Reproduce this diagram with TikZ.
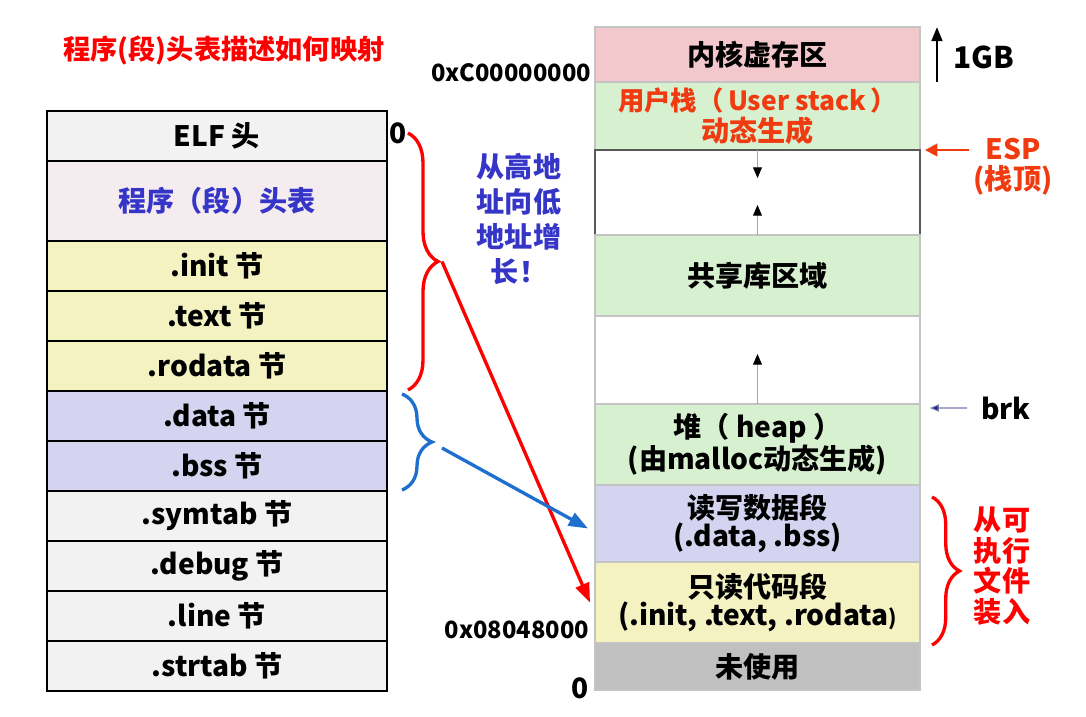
\documentclass[tikz,border=0pt]{standalone}
\usepackage{fontspec}
\setmainfont{Noto Sans CJK SC}
\usetikzlibrary{arrows.meta, positioning, decorations.pathreplacing, calc}
\definecolor{cellGray}{HTML}{F2F2F2}
\definecolor{cellPink}{HTML}{F5ECEF}
\definecolor{cellYellow}{HTML}{F5F2C2}
\definecolor{cellLav}{HTML}{D4D4F0}
\definecolor{kernPink}{HTML}{F2C8CC}
\definecolor{segGreen}{HTML}{D6F0D0}
\definecolor{unusedGray}{HTML}{C0C0C0}
\definecolor{segLine}{HTML}{C4C4C4}
\definecolor{txtBlue}{HTML}{3535C8}
\definecolor{txtOrange}{HTML}{F03A10}
\definecolor{arrBlue}{HTML}{1F6FCF}
\definecolor{brkBlue}{HTML}{202080}

\begin{document}
\begin{tikzpicture}[x=0.02cm, y=-0.02cm, font=\fontsize{16}{19}\selectfont\bfseries,
    lcell/.style={draw=black, line width=1.1pt, minimum width=6.8cm, inner sep=0pt, outer sep=0pt},
    rcell/.style={draw=segLine, line width=0.8pt, minimum width=6.5cm, inner sep=0pt, outer sep=0pt, align=center},
    addr/.style={font=\fontsize{13.5}{16}\selectfont\bfseries, inner sep=1pt},
    bigarrow/.style={line width=1.9pt, -{Triangle[length=11pt, width=8pt]}},
    growarrow/.style={draw=black!35, line width=0.5pt, -{Triangle[length=6pt, width=5pt, black]}}]
  \useasboundingbox (0,0) rectangle (1086,717);

  % title
  \node[red, font=\fontsize{15.5}{18}\selectfont\bfseries] (title) at (224,50) {程序(段)头表描述如何映射};

  % ELF file layout
  \foreach \nm/\yc/\rowh/\clr/\txt in {elf/136/1/cellGray/ELF 头, phdr/201/1.6/cellPink/{\color{txtBlue}程序（段）头表},
      init/266/1/cellYellow/.init 节, text/316/1/cellYellow/.text 节, rodata/366/1/cellYellow/.rodata 节,
      data/416/1/cellLav/.data 节, bss/466/1/cellLav/.bss 节, symtab/516/1/cellGray/.symtab 节,
      debug/566/1/cellGray/.debug 节, line/616/1/cellGray/.line 节, strtab/666/1/cellGray/.strtab 节} {
    \node[lcell, fill=\clr, minimum height=\rowh cm] (\nm) at (217,\yc) {\txt};
  }
  \node[addr, font=\fontsize{16}{18}\selectfont\bfseries, anchor=west] (zerofile) at (elf.north east) [yshift=-0.45cm] {0};

  % process virtual memory
  \node[rcell, fill=kernPink, minimum height=1.1cm] (kernel) at (757.5,54.5) {内核虚存区};
  \node[rcell, fill=segGreen, minimum height=1.36cm, font=\fontsize{15}{17.5}\selectfont\bfseries, text=txtOrange] (ustack) at (757.5,116) {用户栈（\,User stack\,）\\{\fontsize{16}{17.5}\selectfont 动态生成}};
  \node[rcell, draw=black!65, fill=white, minimum height=1.7cm] (gapa) at (757.5,192.5) {};
  \node[rcell, fill=segGreen, minimum height=1.62cm] (shlib) at (757.5,275.5) {共享库区域};
  \node[rcell, fill=white, minimum height=1.76cm] (gapb) at (757.5,360) {};
  \node[rcell, fill=segGreen, minimum height=1.62cm, font=\fontsize{16}{15.5}\selectfont\bfseries] (heap) at (757.5,444.5) {堆（ heap ）\\(由malloc动态生成)};
  \node[rcell, fill=cellLav, minimum height=1.54cm, font=\fontsize{16}{15.5}\selectfont\bfseries] (rwseg) at (757.5,523.5) {读写数据段\\(.data, .bss)};
  \node[rcell, fill=cellYellow, minimum height=1.62cm, font=\fontsize{16}{15.5}\selectfont\bfseries] (roseg) at (757.5,602.5) {只读代码段\\(.init, .text, .rodata{\fontsize{12}{14}\selectfont)}};
  \node[rcell, fill=unusedGray, minimum height=0.94cm] (unused) at (757.5,666.5) {未使用};

  % addresses
  \node[addr, anchor=east] (kaddr) at (593,73) {0xC00000000};
  \node[addr, anchor=east] (taddr) at (591,630) {0x08048000};
  \node[addr, font=\fontsize{16}{18}\selectfont\bfseries, anchor=east] (zeromem) at (591,688) {0};

  % growth of stack, heap
  \draw[growarrow] (gapa.north) -- ++(0,28);
  \draw[growarrow] (gapa.south) -- ++(0,-30);
  \draw[growarrow] (gapb.south) -- ++(0,-50);

  % right side marks
  \draw[line width=1.6pt, -{Triangle[length=8pt, width=6pt]}] ([xshift=0.34cm]kernel.south east) -- ([xshift=0.34cm]kernel.north east);
  \node[font=\fontsize{17}{19}\selectfont\bfseries] (gb) at (984,57) {1GB};
  \node[text=txtOrange, align=center, font=\fontsize{16}{17}\selectfont\bfseries] (esp) at (1013,167) {ESP\\(栈顶)};
  \draw[txtOrange, line width=1.6pt, -{Triangle[length=7pt, width=7pt]}] (esp.north west |- gapa.north) ++(2,0) -- ([xshift=0.1cm]gapa.north east);
  \node (brk) at (1006,408) {brk};
  \draw[brkBlue!60, line width=0.6pt, -{Triangle[length=5pt, width=4pt, fill=brkBlue]}] (brk.west) ++(-8,0) -- ([xshift=0.2cm, yshift=-0.08cm]heap.north east);

  % braces
  \draw[red, line width=1.9pt, decorate, decoration={brace, amplitude=0.6cm}] (408,133) -- (408,390) coordinate[midway, xshift=0.68cm] (rtip);
  \draw[arrBlue, line width=1.9pt, decorate, decoration={brace, amplitude=0.6cm}] (402,394) -- (402,490) coordinate[midway, xshift=0.68cm] (btip);
  \draw[red, line width=1.9pt, decorate, decoration={brace, amplitude=0.55cm}] (932,497) -- (932,645) coordinate[midway, xshift=0.62cm] (ftip);

  \node[text=txtBlue, align=center, font=\fontsize{16}{20}\selectfont\bfseries] (grow) at (519,219) {从高地\\址向低\\地址增\\长！};
  \node[red, align=center, font=\fontsize{16}{17.5}\selectfont\bfseries] (load) at (1002,566) {从可\\执行\\文件\\装入};

  % mapping arrows
  \draw[red, bigarrow] (rtip) -- ([xshift=-0.1cm]roseg.west);
  \draw[arrBlue, bigarrow] ([xshift=0.12cm, yshift=-0.12cm]btip) -- ([xshift=-0.14cm, yshift=-0.1cm]rwseg.west);
\end{tikzpicture}
\end{document}
